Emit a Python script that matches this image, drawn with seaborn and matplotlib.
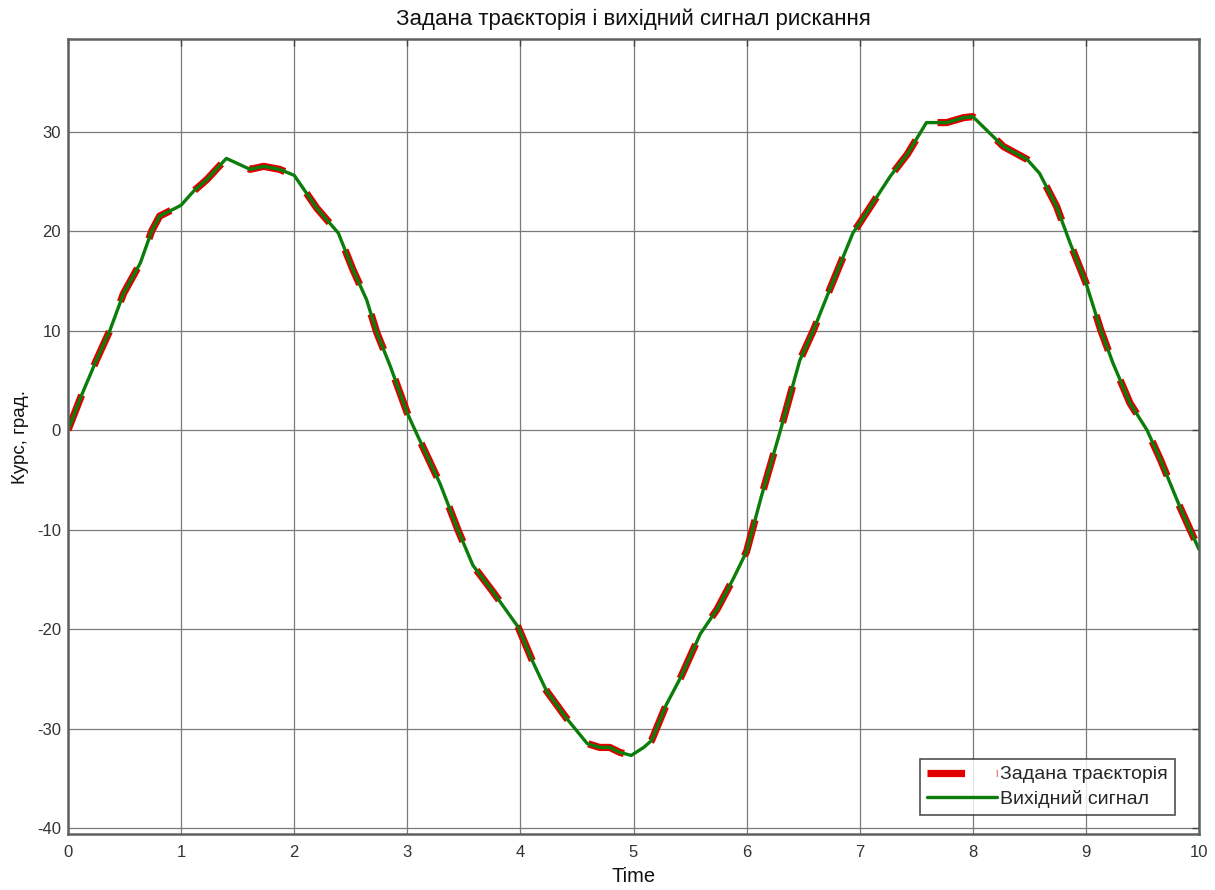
import numpy as np
import pandas as pd
import matplotlib
matplotlib.use("Agg")
import matplotlib.pyplot as plt
import seaborn as sns

# ---- data ----
time = [0, 0.12, 0.25, 0.37, 0.49, 0.64, 0.74, 0.81, 0.95, 1.0, 1.11, 1.23, 1.40,
        1.61, 1.73, 1.87, 2.0, 2.2, 2.39, 2.52, 2.64, 2.73, 2.85, 3.0, 3.08, 3.29,
        3.45, 3.58, 3.76, 3.98, 4.11, 4.23, 4.41, 4.59, 4.70, 4.79, 4.88, 4.98,
        5.09, 5.16, 5.29, 5.42, 5.59, 5.74, 5.88, 6.0, 6.13, 6.30, 6.47, 6.59,
        6.72, 6.94, 7.0, 7.27, 7.42, 7.59, 7.77, 7.92, 8.0, 8.09, 8.27, 8.48,
        8.59, 8.74, 8.86, 9.0, 9.13, 9.24, 9.39, 9.54, 9.66, 9.83, 10.0]
target = [0, 3.5, 7.0, 10.0, 13.7, 16.8, 20.0, 21.5, 22.3, 22.6, 24.0, 25.2, 27.3,
          26.2, 26.5, 26.2, 25.6, 22.3, 19.8, 16.1, 13.1, 9.8, 6.4, 1.7, -0.3, -5.4,
          -10.1, -13.6, -16.3, -19.8, -23.3, -26.2, -29.0, -31.5, -31.9, -31.9, -32.4, -32.7,
          -31.9, -31.2, -27.6, -24.8, -20.5, -18.0, -15.0, -12.2, -6.7, 0.0, 7.0, 10.0,
          13.7, 19.8, 20.8, 25.5, 27.7, 30.9, 30.9, 31.4, 31.5, 30.5, 28.5, 27.2,
          25.8, 22.5, 18.8, 14.8, 10.1, 6.7, 2.7, 0.0, -3.0, -7.7, -12.0]
output = [0, 3.5, 7.0, 10.0, 13.7, 16.8, 20.0, 21.5, 22.3, 22.6, 24.0, 25.2, 27.3,
          26.2, 26.5, 26.2, 25.6, 22.3, 19.8, 16.1, 13.1, 9.8, 6.4, 1.7, -0.3, -5.4,
          -10.1, -13.6, -16.3, -19.8, -23.3, -26.2, -29.0, -31.5, -31.9, -31.9, -32.4, -32.7,
          -31.9, -31.2, -27.6, -24.8, -20.5, -18.0, -15.0, -12.2, -6.7, 0.0, 7.0, 10.0,
          13.7, 19.8, 20.8, 25.5, 27.7, 30.9, 30.9, 31.4, 31.5, 30.5, 28.5, 27.2,
          25.8, 22.5, 18.8, 14.8, 10.1, 6.7, 2.7, 0.0, -3.0, -7.7, -12.0]
x_ticks = [0, 1, 2, 3, 4, 5, 6, 7, 8, 9, 10]
y_ticks = [-40, -30, -20, -10, 0, 10, 20, 30]
labels = ["Задана траєкторія", "Вихідний сигнал"]
title = "Задана траєкторія і вихідний сигнал рискання"
xlabel = "Time"
ylabel = "Курс, град."

df = pd.DataFrame({"t": time, "ref": target, "out": output})

sns.set_theme(style="white")
plt.rcParams["font.family"] = ["Liberation Sans", "DejaVu Sans"]
plt.rcParams["axes.unicode_minus"] = False

fig = plt.figure(figsize=(12.15, 8.9), dpi=100)
ax = fig.add_axes([68 / 1215, 1 - 834 / 890, (1199 - 68) / 1215, (834 - 39) / 890])

sns.lineplot(data=df, x="t", y="ref", ax=ax, color="#e00000", linewidth=5.2,
             linestyle=(0, (5.2, 4.4)), label=labels[0])
sns.lineplot(data=df, x="t", y="out", ax=ax, color="#0a7d0a", linewidth=2.4,
             label=labels[1])

ax.set_xlim(0, 10)
ax.set_ylim(-40.6, 39.3)
ax.set_xticks(x_ticks)
ax.set_yticks(y_ticks)
ax.grid(True, color="#7a7a7a", linewidth=0.9)
ax.tick_params(direction="in", top=True, right=True, length=5, width=1,
               color="#404040", labelsize=12, labelcolor="#333333")
ax.tick_params(axis="x", pad=8)
ax.tick_params(axis="y", pad=5)
for s in ax.spines.values():
    s.set_color("#606060")
    s.set_linewidth(1.8)

ax.set_title(title, fontsize=16, color="#111111", pad=10)
ax.set_xlabel(xlabel, fontsize=14.5, color="#111111", labelpad=5)
ax.set_ylabel(ylabel, fontsize=13.5, color="#111111", labelpad=6)

leg = ax.legend(loc="lower right", fontsize=14, frameon=True, fancybox=False,
                borderpad=0.35, handlelength=3.6, handletextpad=0.2, labelspacing=0.35,
                borderaxespad=0, bbox_to_anchor=(1 - 24 / 1131, 19 / 795))
leg.get_frame().set_edgecolor("#222222")
leg.get_frame().set_linewidth(1.2)

fig.savefig("out.png", dpi=100)
